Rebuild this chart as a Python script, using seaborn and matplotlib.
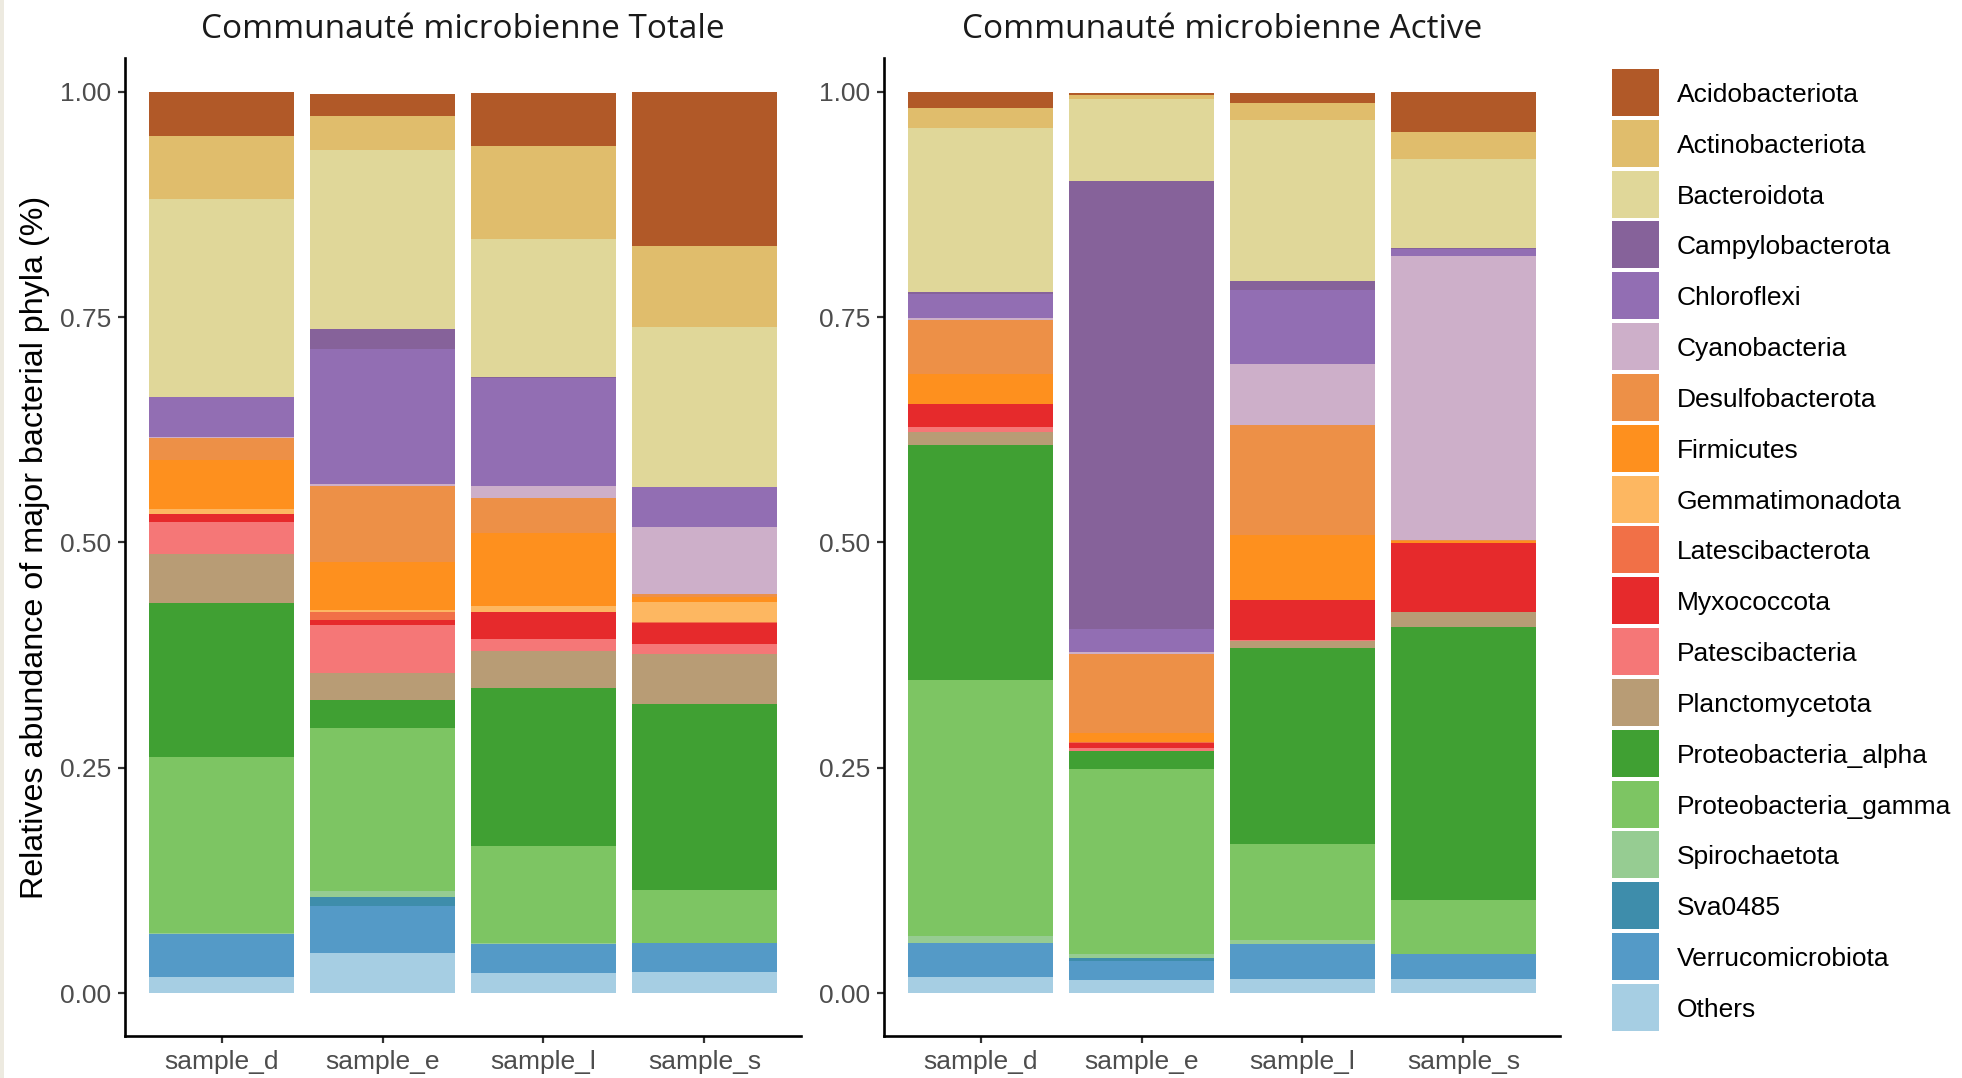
import numpy as np
import pandas as pd
import matplotlib
matplotlib.use("Agg")
import matplotlib.pyplot as plt
from matplotlib.patches import Rectangle
import seaborn as sns

# ---------------------------------------------------------------- data
samples = ["sample_d", "sample_e", "sample_l", "sample_s"]

# phyla listed from the top of each stack down to the bottom
phyla = [
    "Acidobacteriota", "Actinobacteriota", "Bacteroidota", "Campylobacterota",
    "Chloroflexi", "Cyanobacteria", "Desulfobacterota", "Firmicutes",
    "Gemmatimonadota", "Latescibacterota", "Myxococcota", "Patescibacteria",
    "Planctomycetota", "Proteobacteria_alpha", "Proteobacteria_gamma",
    "Spirochaetota", "Sva0485", "Verrucomicrobiota", "Others",
]

# relative abundances, total community (same order as `phyla`)
totale_d = [0.049, 0.070, 0.220, 0.000, 0.044, 0.001, 0.025, 0.054, 0.005, 0.001,
            0.008, 0.036, 0.0545, 0.1705, 0.195, 0.002, 0.000, 0.047, 0.018]
totale_e = [0.025, 0.038, 0.198, 0.022, 0.150, 0.003, 0.084, 0.053, 0.002, 0.009,
            0.006, 0.053, 0.030, 0.031, 0.181, 0.006, 0.011, 0.052, 0.044]
totale_l = [0.059, 0.103, 0.154, 0.001, 0.120, 0.013, 0.039, 0.081, 0.006, 0.000,
            0.030, 0.013, 0.042, 0.175, 0.108, 0.001, 0.000, 0.032, 0.022]
totale_s = [0.171, 0.090, 0.178, 0.000, 0.044, 0.074, 0.004, 0.005, 0.022, 0.001,
            0.024, 0.011, 0.055, 0.207, 0.059, 0.000, 0.000, 0.032, 0.023]

# relative abundances, active community
active_d = [0.018, 0.022, 0.182, 0.002, 0.027, 0.002, 0.060, 0.034, 0.000, 0.000,
            0.025, 0.005, 0.015, 0.261, 0.284, 0.008, 0.000, 0.037, 0.018]
active_e = [0.003, 0.004, 0.091, 0.497, 0.026, 0.002, 0.087, 0.011, 0.000, 0.001,
            0.005, 0.003, 0.000, 0.021, 0.205, 0.004, 0.003, 0.022, 0.014]
active_l = [0.012, 0.018, 0.179, 0.010, 0.082, 0.068, 0.122, 0.072, 0.000, 0.000,
            0.044, 0.001, 0.008, 0.218, 0.106, 0.005, 0.000, 0.038, 0.016]
active_s = [0.045, 0.030, 0.098, 0.001, 0.008, 0.315, 0.001, 0.003, 0.000, 0.000,
            0.076, 0.000, 0.017, 0.303, 0.060, 0.000, 0.000, 0.027, 0.016]

panels = [
    ("Communauté microbienne Totale", [totale_d, totale_e, totale_l, totale_s]),
    ("Communauté microbienne Active", [active_d, active_e, active_l, active_s]),
]

# ---------------------------------------------------------------- style
sns.set_style("ticks")
plt.rcParams["font.family"] = ["Liberation Sans", "DejaVu Sans"]

# 19-step ramp through the "Paired" palette, first step for the bottom group
ramp = sns.blend_palette(sns.color_palette("Paired", 12), n_colors=len(phyla))
palette = {p: ramp[i] for i, p in enumerate(phyla[::-1])}

W, H = 1962, 1078
fig = plt.figure(figsize=(W / 100, H / 100), dpi=100)
fig.patch.set_facecolor("white")

# thin paper-coloured edge on the left
fig.add_artist(Rectangle((0, 0), 4 / W, 1, transform=fig.transFigure,
                         facecolor="#EDEAE0", edgecolor="none", zorder=-1))

ax_top_px, ax_bot_px = 58.3, 1036.0
y_lo, y_hi = -0.0477, 1.0371
axes_px = [(125, 801), (884, 1560)]


def panel_axes(x0, x1):
    return fig.add_axes([x0 / W, 1 - ax_bot_px / H, (x1 - x0) / W,
                         (ax_bot_px - ax_top_px) / H])


for (title, cols), (x0, x1) in zip(panels, axes_px):
    ax = panel_axes(x0, x1)
    df = pd.DataFrame(dict(zip(samples, cols)), index=phyla)
    # height of the top edge of each segment (cumulative from the bottom)
    tops = df.iloc[::-1].cumsum().iloc[::-1]
    long = tops.reset_index(names="phylum").melt(
        id_vars="phylum", var_name="sample", value_name="top")
    # draw from the top group downward so each lower group overlays the one above
    for p in phyla:
        sns.barplot(data=long[long["phylum"] == p], x="sample", y="top",
                    order=samples, color=palette[p], saturation=1,
                    width=0.9, errorbar=None, linewidth=0,
                    edgecolor="none", ax=ax)

    ax.set_xlim(-0.6, 3.6)
    ax.set_ylim(y_lo, y_hi)
    ax.set_yticks([0, 0.25, 0.5, 0.75, 1.0])
    ax.set_yticklabels(["0.00", "0.25", "0.50", "0.75", "1.00"])
    ax.set_xlabel("")
    ax.set_ylabel("")
    sns.despine(ax=ax)
    for s in ("left", "bottom"):
        ax.spines[s].set_linewidth(1.9)
        ax.spines[s].set_color("black")
    ax.tick_params(axis="both", length=5, width=1.6, color="#333333",
                   labelcolor="#4D4D4D", labelsize=19)
    ax.tick_params(axis="y", pad=5.0)
    ax.tick_params(axis="x", pad=5)

    fig.text((x0 + x1) / 2 / W, 1 - 38.3 / H, title, ha="center",
             va="baseline", fontsize=24, color="#1A1A1A",
             family=["Open Sans", "DejaVu Sans"])

fig.text(35 / W, 1 - 547 / H,
         "Relatives abundance of major bacterial phyla (%)",
         rotation=90, ha="center", va="center", fontsize=23.2, color="black")

# legend: one square key per phylum
key_x, key_w, key_h, pitch, key_top0 = 1612, 47, 47, 50.83, 69
for i, p in enumerate(phyla):
    top = key_top0 + i * pitch
    fig.add_artist(Rectangle((key_x / W, 1 - (top + key_h) / H), key_w / W,
                             key_h / H, transform=fig.transFigure,
                             facecolor=palette[p], edgecolor="none"))
    fig.text(1677 / W, 1 - (top + key_h / 2) / H, p, ha="left",
             va="center_baseline", fontsize=19, color="black")

fig.savefig("out.png", dpi=100, facecolor="white")
